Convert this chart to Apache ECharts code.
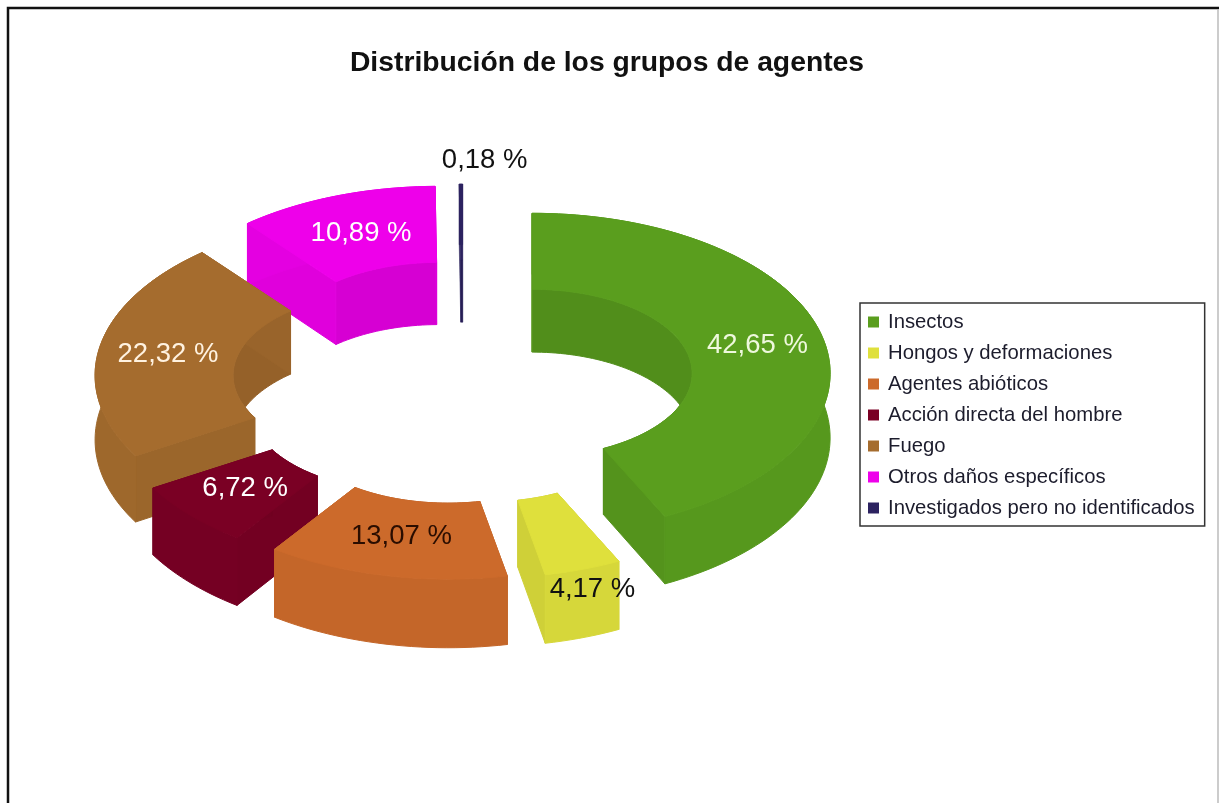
<!DOCTYPE html>
<html><head><meta charset="utf-8">
<style>html,body{margin:0;padding:0;background:#fff}#c{width:1219px;height:803px}</style>
<script src="https://cdn.jsdelivr.net/npm/echarts@6/dist/echarts.min.js"></script>
</head><body><div id="c"></div>
<script>
const categories = ['Insectos','Hongos y deformaciones','Agentes abióticos','Acción directa del hombre','Fuego','Otros daños específicos','Investigados pero no identificados'];
const percentages = [42.65,4.17,13.07,6.72,22.32,10.89,0.18];
const percentLabels = ['42,65 %','4,17 %','13,07 %','6,72 %','22,32 %','10,89 %','0,18 %'];
const colors = ['#5a9e1e','#dfe03c','#cc6a2b','#7a0024','#a56c2e','#ee00ea','#2c2260'];
const labelColors = ['#eef8dc','#111111','#2a0d00','#ffffff','#fff2e0','#ffffff','#111111'];
const labelReach = [0.77,1.13,0.75,0.75,0.76,0.75,1.15];
const labelShiftX = [2,-3,0,0,-2,0,24];
const drawOrder = [6,5,4,0,3,1,2];

const CX=463, CY=382, RX=298, RY=160, IRX=160, IRY=84, EXPLODE_X=71, EXPLODE_Y=38;
const depth = y => 64 + (y-350)*0.02;

function shade(hex, f){
  const n=parseInt(hex.slice(1),16);
  const c=[n>>16,(n>>8)&255,n&255].map(v=>Math.round(v*f));
  return 'rgb('+c.join(',')+')';
}
const total = percentages.reduce((a,b)=>a+b,0);
const startFrac = percentages.map((_,i)=>percentages.slice(0,i).reduce((a,b)=>a+b,0)/total);

function sliceItem(index){
  return function(params, api){
    const v = api.value(0);
    const t0 = startFrac[index]*2*Math.PI, t1 = t0 + v/total*2*Math.PI, mid=(t0+t1)/2;
    const cx = CX + EXPLODE_X*Math.sin(mid), cy = CY - EXPLODE_Y*Math.cos(mid);
    const pt = (t,rx,ry)=>[cx+rx*Math.sin(t), cy-ry*Math.cos(t)];
    const down = p=>[p[0],p[1]+depth(p[1])];
    const n = Math.max(2,Math.ceil((t1-t0)/0.03));
    const arc = (rx,ry,a,b)=>{const r=[];for(let i=0;i<=n;i++){r.push(pt(a+(b-a)*i/n,rx,ry));}return r;};
    const outer = arc(RX,RY,t0,t1), inner = arc(IRX,IRY,t0,t1);
    const c = colors[index];
    const poly = (points,fill)=>({type:'polygon',shape:{points},style:{fill,stroke:fill,lineWidth:index===6?0.5:1}});
    const wall = pts => pts.concat(pts.map(down).reverse());
    const reach = labelReach[index];
    return {type:'group',children:[
      poly(wall(inner),shade(c,0.9)),
      poly(wall([inner[0],outer[0]]),shade(c,0.94)),
      poly(wall([inner[n],outer[n]]),shade(c,0.93)),
      poly(wall(outer),shade(c,0.96)),
      poly(outer.concat(inner.slice().reverse()),c),
      {type:'text',style:{
        text:percentLabels[index],x:cx+reach*RX*Math.sin(mid)+labelShiftX[index],y:cy-reach*RY*Math.cos(mid),
        align:'center',verticalAlign:'middle',fill:labelColors[index],
        font:'27.5px "Liberation Sans", Arial, sans-serif'}}
    ]};
  };
}

const series = drawOrder.map((i,k)=>({
  type:'custom',name:categories[i],coordinateSystem:'none',z:2+k,
  itemStyle:{color:colors[i]},
  data:[[percentages[i]]],
  renderItem:sliceItem(i),
  silent:true
}));

const chart = echarts.init(document.getElementById('c'),null,{renderer:'canvas'});
chart.setOption({
  animation:false,
  backgroundColor:'#fff',
  title:{text:'Distribución de los grupos de agentes',left:602,top:44,textAlign:'center',
    textStyle:{fontFamily:'Liberation Sans',fontWeight:'bold',fontSize:28.3,color:'#111'}},
  legend:{data:categories,orient:'vertical',left:860,top:303,
    padding:[9,10,8,8],itemGap:11,itemWidth:11,itemHeight:11,icon:'rect',
    borderColor:'#333',borderWidth:1.5,backgroundColor:'#fff',selectedMode:false,
    textStyle:{fontFamily:'Liberation Sans',fontSize:20.3,lineHeight:20,color:'#1c1c2c',padding:[0,0,0,4]}},
  graphic:[
    {type:'polyline',z:100,silent:true,shape:{points:[[8,803],[8,8],[1219,8]]},
      style:{fill:null,stroke:'#111',lineWidth:2.5}},
    {type:'line',z:100,silent:true,shape:{x1:1218,y1:9,x2:1218,y2:803},
      style:{stroke:'#bbb',lineWidth:1.5}}],
  series
});
</script></body></html>
